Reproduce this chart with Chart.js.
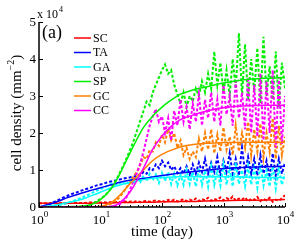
<!DOCTYPE html>
<html>
<head>
<meta charset="utf-8">
<script src="https://cdn.jsdelivr.net/npm/chart.js@4"></script>
<style>
  html, body { margin: 0; padding: 0; background: #fff; }
  canvas { display: block; }
</style>
</head>
<body>
<canvas id="chart" width="296" height="243"></canvas>
<script>
// cell types and legend order
const cellTypes = ['SC', 'TA', 'GA', 'SP', 'GC', 'CC'];
const lineColors = ['#ff0000', '#0000ff', '#00ffff', '#00ee00', '#ff8000', '#ff00ff'];

// axis ticks (density in units of 10^4 mm^-2)
const yTicks = [0, 1, 2, 3, 4, 5];
const xTicks = [1, 10, 100, 1000, 10000];
const xTickExp = ['0', '1', '2', '3', '4'];

// simulated (noisy) data, sampled in days
const days = [
    1, 1.12, 1.26, 1.41, 1.58, 1.78, 2, 2.24, 2.51, 2.82, 3.16, 3.55, 3.98, 4.47, 5.01, 5.62, 6.31, 7.08, 7.94, 8.91,
    10, 11.2, 12.6, 14.1, 15.8, 17.8, 20, 22.4, 25.1, 28.2, 31.6, 35.5, 39.8, 44.7, 50.1, 56.2, 63.1, 70.8, 79.4, 89.1,
    100, 112, 126, 141, 158, 178, 200, 224, 251, 282, 316, 355, 398, 447, 501, 562, 631, 708, 794, 891,
    1000, 1120, 1260, 1410, 1580, 1780, 2000, 2240, 2510, 2820, 3160, 3550, 3980, 4470, 5010, 5620, 6310, 7080, 7940, 8910,
    10000
];
const scData = [
    0.10, 0.10, 0.10, 0.10, 0.10, 0.10, 0.10, 0.10, 0.10, 0.10, 0.11, 0.11, 0.11, 0.11, 0.11, 0.11, 0.12, 0.12, 0.12, 0.12,
    0.12, 0.13, 0.12, 0.13, 0.13, 0.14, 0.13, 0.14, 0.15, 0.13, 0.15, 0.14, 0.16, 0.13, 0.15, 0.17, 0.14, 0.16, 0.18, 0.15,
    0.17, 0.14, 0.19, 0.16, 0.20, 0.15, 0.18, 0.21, 0.16, 0.20, 0.17, 0.23, 0.16, 0.21, 0.18, 0.25, 0.17, 0.22, 0.19, 0.26,
    0.18, 0.24, 0.20, 0.28, 0.17, 0.23, 0.20, 0.26, 0.15, 0.22, 0.19, 0.27, 0.16, 0.22, 0.18, 0.25, 0.14, 0.20, 0.17, 0.24,
    0.32
];
const taData = [
    0, 0, 0.01, 0.05, 0.10, 0.14, 0.18, 0.22, 0.26, 0.29, 0.33, 0.36, 0.39, 0.42, 0.45, 0.48, 0.50, 0.53, 0.56, 0.59,
    0.61, 0.63, 0.66, 0.68, 0.70, 0.72, 0.74, 0.76, 0.78, 0.79, 0.81, 0.82, 0.88, 0.85, 0.95, 0.90, 1.05, 1.00, 1.15, 1.05,
    1.25, 1.10, 1.20, 1.00, 1.10, 0.92, 1.05, 0.90, 1.10, 0.88, 1.15, 0.90, 1.20, 0.95, 1.30, 0.90, 1.20, 0.95, 1.35, 0.85,
    1.25, 0.95, 1.45, 0.90, 1.30, 0.85, 1.60, 0.95, 1.35, 0.90, 1.30, 0.85, 1.40, 0.90, 1.25, 0.80, 1.45, 0.85, 1.30, 0.90,
    1.20
];
const gaData = [
    0, 0, 0, 0, 0, 0.02, 0.04, 0.06, 0.08, 0.10, 0.13, 0.16, 0.19, 0.22, 0.25, 0.29, 0.33, 0.37, 0.41, 0.45,
    0.48, 0.52, 0.56, 0.60, 0.63, 0.60, 0.66, 0.62, 0.70, 0.64, 0.74, 0.66, 0.78, 0.68, 0.85, 0.70, 0.90, 0.72, 0.88, 0.65,
    0.92, 0.70, 0.95, 0.62, 0.90, 0.58, 0.88, 0.60, 1.00, 0.62, 0.95, 0.55, 1.05, 0.60, 0.98, 0.55, 1.10, 0.60, 1.00, 0.58,
    1.15, 0.60, 1.05, 0.55, 1.20, 0.62, 1.00, 0.56, 1.10, 0.60, 1.05, 0.52, 1.15, 0.58, 1.00, 0.55, 1.10, 0.50, 1.05, 0.60,
    0.90
];
const spData = [
    0, 0, 0, 0, 0, 0, 0, 0, 0, 0, 0, 0, 0, 0.01, 0.02, 0.03, 0.05, 0.08, 0.12, 0.17,
    0.22, 0.28, 0.36, 0.46, 0.58, 0.72, 0.88, 1.05, 1.22, 1.42, 1.62, 1.85, 2.10, 2.35, 2.60, 2.85, 2.75, 3.10, 3.30, 3.50,
    3.70, 3.85, 3.60, 3.70, 3.30, 3.05, 2.80, 3.10, 2.70, 3.00, 2.85, 3.20, 3.00, 3.40, 3.10, 3.60, 3.20, 4.20, 3.30, 3.90,
    3.10, 3.70, 3.00, 4.00, 3.20, 4.70, 3.00, 4.40, 2.90, 4.00, 3.10, 4.30, 2.80, 4.60, 3.00, 3.80, 2.90, 4.20, 2.70, 3.90,
    3.20
];
const gcData = [
    0, 0, 0, 0, 0, 0, 0, 0, 0, 0, 0, 0, 0, 0, 0, 0, 0, 0, 0, 0,
    0.01, 0.02, 0.04, 0.07, 0.11, 0.17, 0.25, 0.35, 0.47, 0.60, 0.72, 0.85, 0.98, 1.15, 1.35, 1.30, 1.55, 1.50, 1.75, 1.65,
    1.95, 1.75, 2.10, 1.80, 2.00, 1.60, 1.80, 1.40, 1.60, 1.30, 1.50, 1.35, 1.85, 1.50, 2.00, 1.55, 2.10, 1.45, 1.95, 1.50,
    2.15, 1.55, 1.90, 1.40, 2.20, 1.50, 2.00, 1.60, 2.30, 1.40, 2.10, 1.50, 2.25, 1.35, 2.00, 1.50, 2.40, 1.30, 2.20, 1.40,
    1.90
];
const ccData = [
    0, 0, 0, 0, 0, 0, 0, 0, 0, 0, 0, 0, 0, 0, 0, 0, 0, 0, 0, 0,
    0, 0, 0, 0, 0, 0.02, 0.06, 0.12, 0.20, 0.35, 0.55, 0.75, 0.95, 1.20, 1.50, 1.85, 2.20, 2.45, 2.65, 2.30,
    2.45, 2.00, 2.40, 1.80, 2.60, 2.20, 2.90, 2.30, 2.70, 2.10, 2.80, 2.30, 3.05, 2.20, 2.90, 2.40, 3.10, 2.30, 2.90, 2.20,
    3.30, 2.50, 3.00, 2.20, 3.40, 2.40, 3.10, 2.10, 3.50, 2.00, 3.30, 1.90, 3.60, 1.80, 3.40, 2.00, 3.70, 1.60, 3.50, 1.70,
    3.00
];

// fitted (smooth) curves
const fitDays = [1, 1.5, 2, 3, 5, 7, 10, 15, 20, 30, 50, 70, 100, 150, 200, 300, 500, 1000, 2000, 5000, 10000];
const scFit = [0.10, 0.10, 0.10, 0.10, 0.10, 0.10, 0.11, 0.11, 0.12, 0.12, 0.13, 0.13, 0.14, 0.14, 0.15, 0.15, 0.16, 0.17, 0.18, 0.19, 0.20];
const taFit = [0.00, 0.08, 0.15, 0.26, 0.38, 0.45, 0.52, 0.60, 0.66, 0.72, 0.77, 0.81, 0.85, 0.89, 0.92, 0.95, 0.99, 1.04, 1.07, 1.09, 1.10];
const gaFit = [0.00, 0.03, 0.06, 0.12, 0.21, 0.30, 0.40, 0.52, 0.59, 0.66, 0.74, 0.78, 0.80, 0.81, 0.82, 0.82, 0.82, 0.82, 0.81, 0.80, 0.80];
const spFit = [0.00, 0.00, 0.00, 0.01, 0.02, 0.06, 0.20, 0.50, 0.85, 1.45, 2.15, 2.45, 2.70, 2.92, 3.05, 3.15, 3.24, 3.35, 3.43, 3.48, 3.50];
const gcFit = [0, 0, 0, 0, 0, 0, 0.02, 0.12, 0.30, 0.62, 1.00, 1.25, 1.42, 1.55, 1.62, 1.68, 1.72, 1.74, 1.75, 1.75, 1.75];
const ccFit = [0, 0, 0, 0, 0, 0, 0, 0.02, 0.10, 0.40, 1.05, 1.55, 1.92, 2.22, 2.36, 2.47, 2.58, 2.68, 2.73, 2.75, 2.75];

const noisySeries = [scData, taData, gaData, spData, gcData, ccData];
const fitSeries = [scFit, taFit, gaFit, spFit, gcFit, ccFit];

const serif = '"Liberation Serif", "Times New Roman", serif';

function toPoints(xs, ys) {
    return xs.map((x, i) => ({ x: x, y: ys[i] }));
}

const datasets = [];
cellTypes.forEach((name, i) => {
    datasets.push({
        label: name,
        isFit: true,
        data: toPoints(fitDays, fitSeries[i]),
        borderColor: lineColors[i],
        borderWidth: 1.5,
        pointRadius: 0,
        cubicInterpolationMode: 'monotone',
        order: 10 - i
    });
});
cellTypes.forEach((name, i) => {
    datasets.push({
        label: name + ' sim',
        isFit: false,
        data: toPoints(days, noisySeries[i]),
        borderColor: lineColors[i],
        borderWidth: 2,
        borderDash: [3, 2],
        pointRadius: 0,
        tension: 0,
        order: 30 - i
    });
});

// axes, tick labels, titles and legend drawn in MATLAB style
const axesPlugin = {
    id: 'axesPlugin',
    afterDraw(chart) {
        const ctx = chart.ctx;
        const a = chart.chartArea;
        const xs = chart.scales.x;
        const ys = chart.scales.y;
        ctx.save();
        ctx.strokeStyle = '#000';
        ctx.fillStyle = '#000';
        ctx.lineWidth = 1.5;

        // axis lines
        ctx.beginPath();
        ctx.moveTo(a.left, a.top);
        ctx.lineTo(a.left, a.bottom);
        ctx.lineTo(a.right, a.bottom);
        ctx.stroke();

        // y ticks
        ctx.lineWidth = 1;
        ctx.font = '13px ' + serif;
        ctx.textAlign = 'right';
        ctx.textBaseline = 'middle';
        yTicks.forEach(v => {
            const y = Math.round(ys.getPixelForValue(v)) + 0.5;
            ctx.beginPath();
            ctx.moveTo(a.left, y);
            ctx.lineTo(a.left + 4, y);
            ctx.stroke();
            ctx.fillText(String(v), a.left - 3, y);
        });

        // x ticks, major and minor
        xTicks.forEach((v, k) => {
            const x = Math.round(xs.getPixelForValue(v)) + 0.5;
            ctx.beginPath();
            ctx.moveTo(x, a.bottom);
            ctx.lineTo(x, a.bottom - 4);
            ctx.stroke();
            if (k < xTicks.length - 1) {
                for (let m = 2; m < 10; m++) {
                    const xm = Math.round(xs.getPixelForValue(v * m)) + 0.5;
                    ctx.beginPath();
                    ctx.moveTo(xm, a.bottom);
                    ctx.lineTo(xm, a.bottom - 2);
                    ctx.stroke();
                }
            }
            // label 10^k
            ctx.font = '13px ' + serif;
            const wBase = ctx.measureText('10').width;
            ctx.font = '9px ' + serif;
            const wExp = ctx.measureText(xTickExp[k]).width;
            const x0 = x - (wBase + wExp) / 2;
            ctx.textAlign = 'left';
            ctx.textBaseline = 'alphabetic';
            ctx.font = '13px ' + serif;
            ctx.fillText('10', x0, 224);
            ctx.font = '9px ' + serif;
            ctx.fillText(xTickExp[k], x0 + wBase, 217);
        });

        // exponent of y axis
        ctx.textAlign = 'left';
        ctx.font = '12px ' + serif;
        ctx.fillText('x 10', 37, 18);
        const wx = ctx.measureText('x 10').width;
        ctx.font = '8px ' + serif;
        ctx.fillText('4', 37 + wx + 1, 12);

        // x title
        ctx.font = '15px ' + serif;
        ctx.textAlign = 'center';
        ctx.fillText('time (day)', (a.left + a.right) / 2, 236);

        // y title, rotated, with superscript
        ctx.save();
        ctx.translate(21, 113);
        ctx.rotate(-Math.PI / 2);
        ctx.font = '15px ' + serif;
        const p1 = 'cell density (mm';
        const p3 = ')';
        const w1 = ctx.measureText(p1).width;
        const w3 = ctx.measureText(p3).width;
        ctx.font = '10px ' + serif;
        const p2 = '\u22122';
        const w2 = ctx.measureText(p2).width;
        const start = -(w1 + w2 + w3) / 2;
        ctx.textAlign = 'left';
        ctx.font = '15px ' + serif;
        ctx.fillText(p1, start, 0);
        ctx.font = '10px ' + serif;
        ctx.fillText(p2, start + w1, -7);
        ctx.font = '15px ' + serif;
        ctx.fillText(p3, start + w1 + w2, 0);
        ctx.restore();

        // panel tag
        ctx.font = '18px ' + serif;
        ctx.textAlign = 'left';
        ctx.fillText('(a)', 42, 38);

        // legend
        ctx.font = '12px ' + serif;
        ctx.textBaseline = 'middle';
        chart.data.datasets.filter(d => d.isFit).forEach((d, i) => {
            const y = 38 + i * 14.5;
            ctx.strokeStyle = d.borderColor;
            ctx.lineWidth = 1.5;
            ctx.beginPath();
            ctx.moveTo(74, y);
            ctx.lineTo(91, y);
            ctx.stroke();
            ctx.fillStyle = '#000';
            ctx.fillText(d.label, 93, y + 0.5);
        });
        ctx.restore();
    }
};

const chartCtx = document.getElementById('chart').getContext('2d');
new Chart(chartCtx, {
    type: 'line',
    data: { datasets: datasets },
    options: {
        responsive: false,
        animation: false,
        devicePixelRatio: 1,
        layout: { padding: { left: 39, top: 22, right: 11, bottom: 36 } },
        plugins: { legend: { display: false }, tooltip: { enabled: false } },
        scales: {
            x: { type: 'logarithmic', min: 1, max: 10000, display: false },
            y: { type: 'linear', min: 0, max: 5, display: false }
        }
    },
    plugins: [axesPlugin]
});
</script>
</body>
</html>
